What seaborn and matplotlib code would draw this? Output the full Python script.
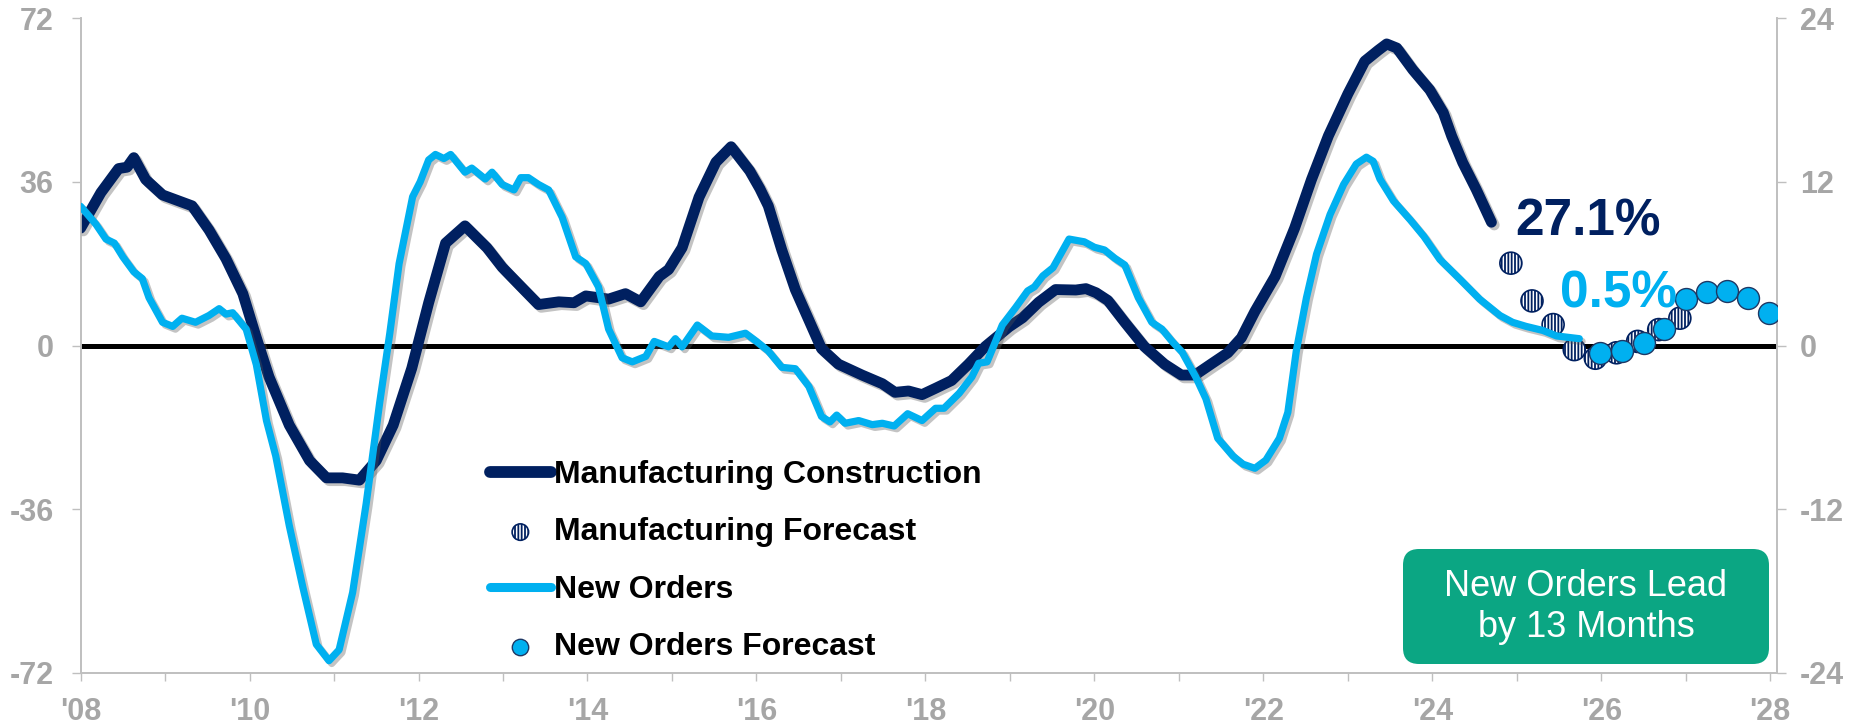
import matplotlib
matplotlib.use("Agg")
import matplotlib.pyplot as plt
import matplotlib.patheffects as pe
from matplotlib.lines import Line2D
from matplotlib.patches import FancyBboxPatch
from matplotlib.ticker import MultipleLocator, FuncFormatter
from matplotlib.transforms import IdentityTransform
from matplotlib.legend_handler import HandlerPathCollection
import seaborn as sns

# ---- data: 12-month growth rates (%) ----
mfg_year = [2008.00, 2008.24, 2008.45, 2008.55, 2008.63, 2008.77, 2008.97, 2009.32, 2009.52,
            2009.72, 2009.92, 2010.08, 2010.23, 2010.47, 2010.71, 2010.91, 2011.10, 2011.30,
            2011.50, 2011.70, 2011.92, 2012.12, 2012.32, 2012.55, 2012.81, 2012.99, 2013.22,
            2013.42, 2013.66, 2013.84, 2013.98, 2014.25, 2014.45, 2014.63, 2014.85, 2014.96,
            2015.12, 2015.32, 2015.52, 2015.70, 2015.92, 2016.04, 2016.14, 2016.30, 2016.46,
            2016.62, 2016.77, 2016.97, 2017.25, 2017.49, 2017.64, 2017.80, 2017.96, 2018.12,
            2018.31, 2018.51, 2018.71, 2018.99, 2019.15, 2019.34, 2019.54, 2019.78, 2019.90,
            2020.02, 2020.16, 2020.36, 2020.59, 2020.83, 2021.03, 2021.19, 2021.38, 2021.58,
            2021.74, 2021.90, 2022.14, 2022.37, 2022.57, 2022.77, 2023.00, 2023.20, 2023.36,
            2023.46, 2023.58, 2023.77, 2023.97, 2024.13, 2024.23, 2024.36, 2024.52, 2024.70]
mfg_value = [25.8, 33.6, 38.9, 39.2, 41.3, 36.5, 33.1, 30.7, 25.4,
             19.1, 11.4, 1.7, -6.9, -17.5, -25.3, -29.1, -29.1, -29.6,
             -25.3, -17.5, -5.0, 9.4, 22.5, 26.3, 21.5, 17.2, 12.8,
             9.0, 9.6, 9.4, 10.9, 10.2, 11.4, 9.6, 15.2, 16.7,
             21.5, 32.6, 40.3, 43.7, 38.4, 34.5, 30.7, 21.0, 12.3,
             5.6, -0.7, -4.1, -6.5, -8.4, -10.3, -10.0, -10.8, -9.4,
             -7.7, -4.1, -0.2, 4.1, 6.1, 9.5, 12.3, 12.2, 12.5,
             11.6, 9.9, 5.1, -0.2, -4.1, -6.5, -6.5, -4.1, -1.6,
             1.7, 7.5, 15.2, 25.8, 36.5, 46.1, 55.3, 62.5, 64.9,
             66.3, 65.4, 60.6, 56.2, 51.2, 46.0, 40.2, 34.3, 27.1]

mfg_fc_year = [2024.93, 2025.18, 2025.43, 2025.68, 2025.93, 2026.18, 2026.43, 2026.68, 2026.93]
mfg_fc_value = [18.1, 9.8, 4.6, -0.9, -2.8, -1.6, 0.9, 3.5, 6.0]

orders_year = [2008.00, 2008.18, 2008.30, 2008.40, 2008.50, 2008.63, 2008.73, 2008.81, 2008.97,
               2009.09, 2009.20, 2009.36, 2009.52, 2009.64, 2009.72, 2009.80, 2009.96, 2010.08,
               2010.20, 2010.31, 2010.47, 2010.63, 2010.79, 2010.94, 2011.06, 2011.22, 2011.38,
               2011.54, 2011.66, 2011.77, 2011.93, 2012.02, 2012.12, 2012.20, 2012.30, 2012.38,
               2012.55, 2012.63, 2012.79, 2012.87, 2012.99, 2013.13, 2013.21, 2013.30, 2013.42,
               2013.54, 2013.70, 2013.86, 2013.98, 2014.13, 2014.25, 2014.41, 2014.53, 2014.69,
               2014.79, 2014.96, 2015.04, 2015.12, 2015.30, 2015.47, 2015.67, 2015.87, 2016.00,
               2016.14, 2016.30, 2016.46, 2016.62, 2016.77, 2016.87, 2016.95, 2017.05, 2017.21,
               2017.37, 2017.49, 2017.63, 2017.79, 2017.96, 2018.12, 2018.22, 2018.40, 2018.55,
               2018.63, 2018.73, 2018.91, 2019.07, 2019.21, 2019.29, 2019.39, 2019.51, 2019.70,
               2019.88, 2020.00, 2020.12, 2020.24, 2020.36, 2020.52, 2020.68, 2020.80, 2020.92,
               2021.04, 2021.20, 2021.32, 2021.46, 2021.64, 2021.76, 2021.90, 2022.03, 2022.19,
               2022.29, 2022.39, 2022.51, 2022.63, 2022.79, 2022.95, 2023.10, 2023.22, 2023.30,
               2023.38, 2023.54, 2023.74, 2023.90, 2024.09, 2024.32, 2024.56, 2024.80, 2024.95,
               2025.11, 2025.31, 2025.47, 2025.74]
orders_value = [10.2, 8.9, 7.8, 7.5, 6.5, 5.4, 4.9, 3.5, 1.7,
                1.4, 2.0, 1.7, 2.2, 2.7, 2.3, 2.4, 1.2, -1.4,
                -5.5, -8.1, -13.2, -17.7, -21.9, -23.1, -22.3, -18.1, -11.6,
                -4.2, 0.9, 6.0, 10.9, 12.0, 13.6, 14.0, 13.7, 14.0,
                12.7, 13.0, 12.2, 12.7, 11.8, 11.4, 12.3, 12.3, 11.8,
                11.4, 9.4, 6.5, 6.0, 4.3, 1.2, -0.9, -1.2, -0.8,
                0.3, -0.1, 0.5, -0.1, 1.5, 0.7, 0.6, 0.9, 0.3,
                -0.4, -1.6, -1.7, -3.0, -5.2, -5.6, -5.1, -5.7, -5.5,
                -5.8, -5.7, -5.9, -5.0, -5.5, -4.6, -4.6, -3.5, -2.3,
                -1.3, -1.2, 1.5, 2.8, 4.0, 4.3, 5.1, 5.7, 7.8,
                7.6, 7.2, 7.0, 6.4, 5.9, 3.5, 1.7, 1.2, 0.3,
                -0.5, -2.3, -3.9, -6.8, -8.1, -8.7, -9.0, -8.4, -6.8,
                -4.9, -0.4, 3.5, 6.7, 9.6, 11.8, 13.3, 13.8, 13.5,
                12.2, 10.6, 9.2, 8.0, 6.3, 4.9, 3.4, 2.2, 1.7,
                1.4, 1.1, 0.7, 0.5]

orders_fc_year = [2025.99, 2026.25, 2026.50, 2026.74, 2027.00, 2027.25, 2027.49, 2027.74, 2027.99]
orders_fc_value = [-0.56, -0.41, 0.2, 1.2, 3.4, 3.9, 4.0, 3.5, 2.4]

left_ticks = [-72, -36, 0, 36, 72]
right_ticks = [-24, -12, 0, 12, 24]

NAVY = "#002060"
SKY = "#00B0F0"
GREEN = "#0BA683"
GREY = "#A6A6A6"
SPINE = "#BFBFBF"

sns.set_theme(style="white")
plt.rcParams["font.family"] = ["Liberation Sans", "DejaVu Sans"]
plt.rcParams["axes.unicode_minus"] = False
plt.rcParams["hatch.color"] = NAVY
plt.rcParams["hatch.linewidth"] = 1.3

W, H, DPI = 1859, 728, 100
fig = plt.figure(figsize=(W / DPI, H / DPI), dpi=DPI)
ax = fig.add_axes([80.6 / W, 1 - 673 / H, (1777 - 80.6) / W, (673 - 18) / H])
ax2 = ax.twinx()

shadow = [pe.SimpleLineShadow(offset=(2, -2), shadow_color="#555555", alpha=0.35), pe.Normal()]

# zero reference line
ax.axhline(0, xmin=0, xmax=1, color="black", lw=3.6, zorder=1)

# manufacturing construction (left axis)
sns.lineplot(x=mfg_year, y=mfg_value, ax=ax, color=NAVY, lw=7.8, estimator=None, sort=False,
             solid_capstyle="round", path_effects=shadow, zorder=3)
sns.scatterplot(x=mfg_fc_year, y=mfg_fc_value, ax=ax, s=250, color="white", edgecolor=NAVY,
                linewidth=1.2, hatch="|||||", zorder=4)
mfg_fc_coll = ax.collections[-1]

# new orders (right axis)
sns.lineplot(x=orders_year, y=orders_value, ax=ax2, color=SKY, lw=5.2, estimator=None, sort=False,
             solid_capstyle="round", path_effects=shadow, zorder=3)
sns.scatterplot(x=orders_fc_year, y=orders_fc_value, ax=ax2, s=250, color=SKY, edgecolor="#1F3864",
                linewidth=1.0, zorder=4)
orders_fc_coll = ax2.collections[-1]

# axes limits and ticks
ax.set_xlim(2008, 2028.08)
ax.set_ylim(-72, 72)
ax2.set_ylim(-24, 24)
ax.set_yticks(left_ticks)
ax2.set_yticks(right_ticks)
ax.xaxis.set_major_locator(MultipleLocator(2))
ax.xaxis.set_minor_locator(MultipleLocator(1))
ax.xaxis.set_major_formatter(FuncFormatter(lambda v, p: "'%02d" % (int(round(v)) % 100)))
ax.set_xlabel("")
ax.set_ylabel("")
ax2.set_ylabel("")

for a in (ax, ax2):
    a.spines["top"].set_visible(False)
    for side in ("left", "right", "bottom"):
        a.spines[side].set_color(SPINE)
        a.spines[side].set_linewidth(1.2)
    a.grid(False)

ax.tick_params(axis="y", which="major", direction="out", length=6.5, width=1, color=SPINE, pad=13,
               labelsize=22, labelcolor=GREY, left=True)
ax2.tick_params(axis="y", which="major", direction="out", length=6.5, width=1, color=SPINE, pad=10,
                labelsize=22, labelcolor=GREY, right=True)
ax.tick_params(axis="x", which="both", direction="out", length=6, width=1, color=SPINE, pad=11,
               labelsize=22, labelcolor=GREY, bottom=True)
for lbl in ax.get_yticklabels() + ax2.get_yticklabels() + ax.get_xticklabels():
    lbl.set_fontweight("bold")

# end-of-series value labels
ax.annotate(f"{mfg_value[-1]:.1f}%", xy=(mfg_year[-1], mfg_value[-1]), xytext=(17, 0),
            textcoords="offset points", ha="left", va="center", fontsize=37,
            fontweight="bold", color=NAVY, zorder=6)
ax2.annotate(f"{orders_value[-1]:.1f}%", xy=(orders_year[-1], orders_value[-1]), xytext=(-14, 32),
             textcoords="offset points", ha="left", va="center", fontsize=37,
             fontweight="bold", color=SKY, zorder=6)

# legend
handles = [
    Line2D([], [], color=NAVY, lw=8.5, solid_capstyle="round"),
    mfg_fc_coll,
    Line2D([], [], color=SKY, lw=6.5, solid_capstyle="round"),
    orders_fc_coll,
]
labels = ["Manufacturing Construction", "Manufacturing Forecast", "New Orders", "New Orders Forecast"]
leg = ax2.legend(handles, labels, loc="upper left",
                 bbox_to_anchor=(490 / W, 1 - 460 / H), bbox_transform=fig.transFigure,
                 frameon=False, handlelength=1.9, handletextpad=0.1,
                 labelspacing=0.86, borderpad=0, borderaxespad=0,
                 handler_map={type(mfg_fc_coll): HandlerPathCollection(sizes=[140])},
                 prop={"weight": "bold", "size": 23})
for t in leg.get_texts():
    t.set_color("black")
leg.set_zorder(10)

# lead-time callout box
box = FancyBboxPatch((1403, H - 664), 1769 - 1403, 664 - 549,
                     boxstyle="round,pad=0,rounding_size=16", transform=IdentityTransform(),
                     facecolor=GREEN, edgecolor="none", zorder=5)
fig.add_artist(box)
fig.text(1586 / W, 1 - 607 / H, "New Orders Lead\nby 13 Months", ha="center", va="center",
         fontsize=26, color="white", linespacing=1.2, zorder=6)

fig.savefig("out.png", dpi=DPI)
